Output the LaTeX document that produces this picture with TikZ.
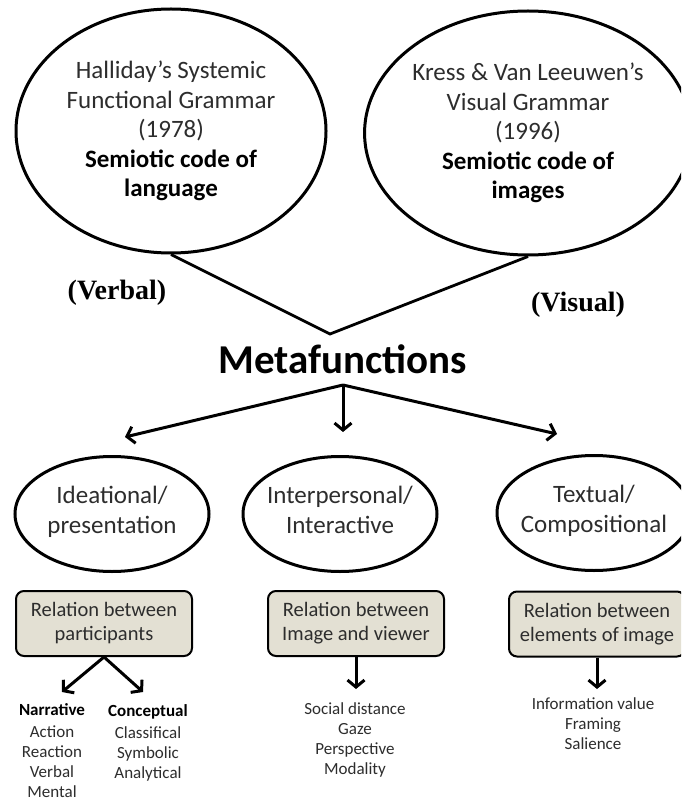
\documentclass[tikz,border=0pt]{standalone}
\usepackage{fontspec}
\setmainfont{Carlito}
\newfontfamily\timesfont{Liberation Serif}
\usetikzlibrary{shapes.geometric,arrows.meta}
\definecolor{boxfill}{RGB}{227,224,211}
\definecolor{txtgrey}{RGB}{45,45,45}
\newcommand{\boldline}[1]{\textcolor{black}{\textbf{#1}}}
\tikzset{
	bigoval/.style={draw, ellipse, line width=3pt, minimum width=310pt, minimum height=244pt, inner sep=0pt, align=center, text=txtgrey, font=\fontsize{25}{29.5}\selectfont},
	smalloval/.style={draw, ellipse, line width=3pt, minimum width=194pt, minimum height=115pt, inner xsep=-6pt, inner ysep=0pt, align=center, text=txtgrey, font=\fontsize{25}{30}\selectfont},
	relbox/.style={draw, rounded corners=8pt, fill=boxfill, line width=2pt, minimum width=176pt, minimum height=65pt, align=center, text=txtgrey, font=\fontsize{20.5}{24}\selectfont},
	itemlist/.style={align=center, text=txtgrey, font=\fontsize{17}{20}\selectfont},
	arr/.style={line width=3pt, -{Straight Barb[length=7pt,width=17pt]}}
}
\begin{document}
\begin{tikzpicture}[x=1pt,y=-1pt]
	\useasboundingbox (0,0) rectangle (681,805);
	\fill[white] (0,0) rectangle (681,805);
	\clip (0,0) rectangle (681,805);

	\node[bigoval] (halliday) at (171,131) {Halliday's Systemic\\Functional Grammar\\(1978)\\\boldline{Semiotic code of}\\\boldline{language}};
	\node[bigoval] (kress) at (528,133) {Kress \& Van Leeuwen's\\Visual Grammar\\(1996)\\\boldline{Semiotic code of}\\\boldline{images}};

	\coordinate (apex) at (330,334);
	\draw[line width=2.8pt, line join=miter] (halliday.south) -- (apex) -- (kress.south);

	\node[font=\timesfont\bfseries\fontsize{28}{30}\selectfont] (verbal) at (117,293) {(Verbal)};
	\node[font=\timesfont\bfseries\fontsize{28}{30}\selectfont] (visual) at (578,305) {(Visual)};

	\node[font=\bfseries\fontsize{41}{45}\selectfont] (meta) at (343,359) {Metafunctions};

	\coordinate (split) at (343,385);
	\coordinate (tipideal) at (125,437);
	\coordinate (tipinter) at (343,432);
	\coordinate (tiptext) at (557,434);
	\draw[arr] (split) -- (tipideal);
	\draw[arr] (split) -- (tipinter);
	\draw[arr] (split) -- (tiptext);

	\node[smalloval] (ideational) at (112,514) {Ideational/\\presentation\strut};
	\node[smalloval] (interpersonal) at (340,514) {Interpersonal/\\Interactive\strut};
	\node[smalloval] (textual) at (594,513) {Textual/\\Compositional\strut};

	\node[relbox] (partbox) at (104,623.5) {Relation between\\participants};
	\node[relbox] (viewbox) at (356,623.5) {Relation between\\Image and viewer};
	\node[relbox] (elembox) at (597,624) {Relation between\\elements of image};

	\coordinate (tipnarr) at (62,692);
	\coordinate (tipconc) at (143,692);
	\coordinate (tipview) at (356,689);
	\coordinate (tipelem) at (597,689);
	\draw[arr] (partbox.south) -- (tipnarr);
	\draw[arr] (partbox.south) -- (tipconc);
	\draw[arr] (viewbox.south) -- (tipview);
	\draw[arr] (elembox.south) -- (tipelem);

	\node[itemlist] (narrative) at (52,751) {\boldline{Narrative}\\[2pt]Action\\Reaction\\Verbal\\Mental};
	\node[itemlist] (conceptual) at (148,743) {\boldline{Conceptual}\\[2pt]Classifical\\Symbolic\\Analytical};
	\node[itemlist] (viewitems) at (355,740) {Social distance\\Gaze\\Perspective\\Modality};
	\node[itemlist] (elemitems) at (593,724) {Information value\\Framing\\Salience};
\end{tikzpicture}
\end{document}
